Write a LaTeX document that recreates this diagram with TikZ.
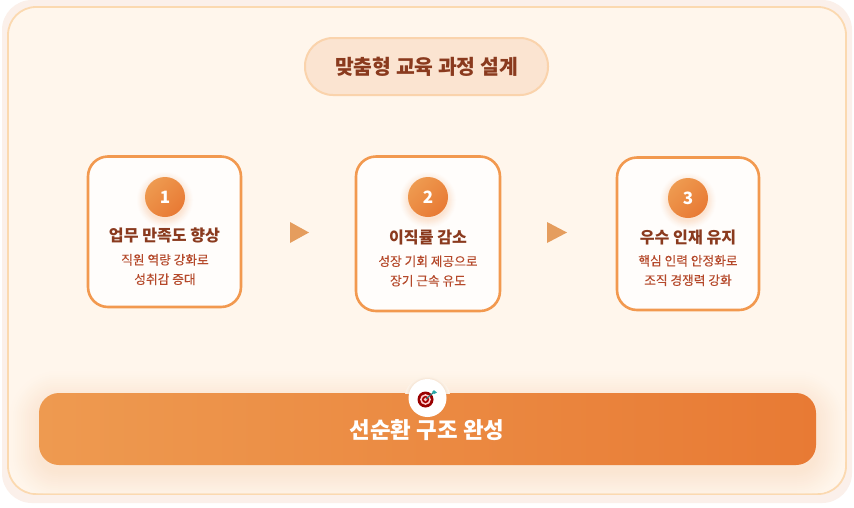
\documentclass[tikz,border=0pt]{standalone}
\usepackage{fontspec}
\setmainfont{Noto Sans CJK KR}
\newfontfamily\krmed[FakeBold=0.25]{Noto Sans CJK KR}
\usetikzlibrary{calc}
\definecolor{pageBg}{HTML}{FBF0EA}
\definecolor{panelBg}{HTML}{FFF6EC}
\definecolor{panelLine}{HTML}{FBD9B0}
\definecolor{chipBg}{HTML}{FBE4D1}
\definecolor{chipLine}{HTML}{FAD3AC}
\definecolor{cardLine}{HTML}{F2994F}
\definecolor{cardFill}{HTML}{FFFDFB}
\definecolor{gradA}{HTML}{EE9A50}
\definecolor{gradB}{HTML}{E87A34}
\definecolor{titleCol}{HTML}{8A3A1E}
\definecolor{subCol}{HTML}{B5482A}
\definecolor{triCol}{HTML}{E59D5E}
\definecolor{barGlow}{HTML}{FBE6D3}
\definecolor{dotGlow}{HTML}{FBE3D0}
\definecolor{badgeGlow}{HTML}{EFD9C4}
\tikzset{
  x=1pt,y=-1pt,
  cardbox/.style={draw=cardLine,line width=2.6pt,fill=cardFill,rounded corners=20pt},
  numdot/.style={circle,minimum size=40pt,inner sep=0pt,left color=gradA,right color=gradB,shading angle=45,text=white,font=\bfseries\fontsize{17}{17}\selectfont},
  cardtitle/.style={text=titleCol,font=\bfseries\fontsize{16.1}{18}\selectfont,inner sep=0pt},
  cardsub/.style={text=subCol,align=center,font=\krmed\fontsize{12.7}{19.5}\selectfont,inner sep=0pt},
  tri/.style={fill=triCol,draw=none}
}
\begin{document}
\begin{tikzpicture}
\useasboundingbox (0,0) rectangle (854,507);
\fill[white] (0,0) rectangle (854,507);
% page and panel
\fill[pageBg,rounded corners=30pt] (2,0) rectangle (852,503);
\draw[panelLine,line width=1.8pt,fill=panelBg,rounded corners=28pt] (8,7) rectangle (846,494);
% title chip
\node[draw=chipLine,line width=2pt,fill=chipBg,rounded corners=28pt,minimum width=243pt,minimum height=57pt,inner sep=0pt,
  text=titleCol,font=\bfseries\fontsize{20.4}{22}\selectfont] (chip) at (426.5,66.5) {맞춤형 교육 과정 설계};
% cards
\draw[cardbox] (88,156.5) rectangle (241,307) coordinate (c1br);
\draw[cardbox] (356,156.5) rectangle (500,311) coordinate (c2br);
\draw[cardbox] (617,157.5) rectangle (759,310) coordinate (c3br);
% number dot shadows
\foreach \cx/\cy in {165/200,428/200,688/201}{
  \foreach \r/\p in {28/8,27/16,26/26,25/36,24/48,23/60,22/72,21/84,20/95}{
    \fill[dotGlow!\p!cardFill] (\cx,\cy) circle[radius=\r];
  }
}
\node[numdot] (n1) at (165,197) {1};
\node[numdot] (n2) at (428,197) {2};
\node[numdot] (n3) at (688,198) {3};
% card text
\node[cardtitle] (t1) at (164.5,235.5) {업무 만족도 향상};
\node[cardsub] (s1) at (165,269.5) {직원 역량 강화로\\성취감 증대};
\node[cardtitle] (t2) at (428,237) {이직률 감소};
\node[cardsub] (s2) at (428,271) {성장 기회 제공으로\\장기 근속 유도};
\node[cardtitle] (t3) at (688,237) {우수 인재 유지};
\node[cardsub] (s3) at (688,270.5) {핵심 인력 안정화로\\조직 경쟁력 강화};
% arrows
\fill[tri] (290,222) -- (309,232.5) -- (290,243) -- cycle;
\fill[tri] (547,222) -- (567,232.5) -- (547,243) -- cycle;
% bar shadow (outermost first, solid tints)
\begin{scope}
\clip[rounded corners=27pt] (9,8) rectangle (845,493);
\foreach \d/\p in {30/4,28/9,26/14,24/20,22/26,20/32,18/39,16/46,14/53,12/60,10/67,8/74,6/81,4/88,2/94,0/100}{
  \fill[barGlow!\p!panelBg,rounded corners={20pt+\d pt}] (39-\d,401-\d) rectangle (816+\d,472+\d);
}
\end{scope}
% bar
\shade[left color=gradA,right color=gradB,rounded corners=20pt] (39,393) rectangle (816,465);
\node[text=white,font=\bfseries\fontsize{22.4}{24}\selectfont,inner sep=0pt] (barText) at (427,430.5) {선순환 구조 완성};
% icon badge
\begin{scope}
\clip (380,350) rectangle (475,393);
\foreach \r/\p in {23/10,22/25,21/45,20/70}{ \fill[badgeGlow!\p!panelBg] (427.5,399) circle[radius=\r]; }
\end{scope}
\node[circle,fill=white,minimum size=38pt,inner sep=0pt] (badge) at (427.5,398) {};
\fill[red!60!black] (425.5,399.5) circle[radius=8];
\fill[white!80!red] (425.5,399.5) circle[radius=5.4];
\fill[red!65!black] (425.5,399.5) circle[radius=3.6];
\fill[white!80!red] (425.5,399.5) circle[radius=1.8];
\draw[teal!70!gray,line width=1pt] (426,399) -- (433,393);
\fill[teal!55!cyan!70!gray] (432,392) -- (434,390) -- (435,391) -- (437,392.5) -- (434,394) -- cycle;
\end{tikzpicture}
\end{document}
